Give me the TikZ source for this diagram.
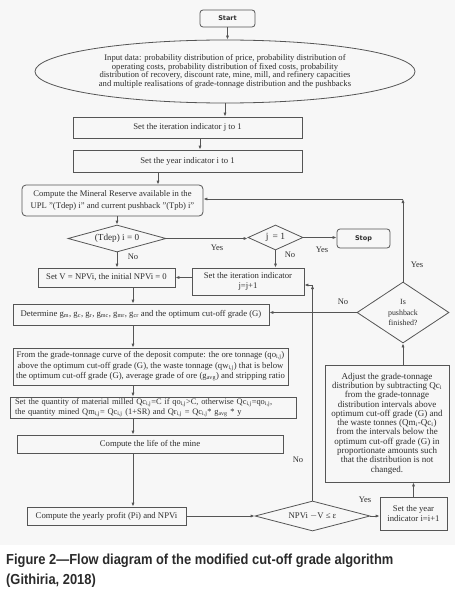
\documentclass[tikz,border=0pt]{standalone}
\usepackage{fontspec}
\setmainfont{Liberation Serif}
\newfontfamily\hdfont{DejaVu Sans}
\newfontfamily\capfont[FakeStretch=0.89]{Liberation Sans}
\usetikzlibrary{shapes.geometric,arrows.meta,calc}
\definecolor{ln}{HTML}{555555}
\definecolor{tx}{HTML}{2E2E2E}
\definecolor{bg}{HTML}{F7F7F7}
\definecolor{captx}{HTML}{2A2A2A}
\begin{document}
\begin{tikzpicture}[x=1pt,y=-1pt,
  every node/.style={text=tx, inner sep=0pt},
  box/.style={draw=ln, line width=0.8pt, font=\fontsize{8.7}{10.5}\selectfont, align=center},
  rbox/.style={box, rounded corners=4pt},
  term/.style={box, rounded corners=3pt, font=\hdfont\bfseries\fontsize{6.5}{8}\selectfont},
  dia/.style={diamond, draw=ln, line width=0.8pt, aspect=1},
  dtext/.style={font=\fontsize{8.7}{10.5}\selectfont, align=center},
  arr/.style={draw=ln, line width=0.8pt, -{Latex[length=4pt,width=3.2pt]}},
  lbl/.style={font=\fontsize{8.5}{10}\selectfont}]
\useasboundingbox (0,0) rectangle (455,591);
\fill[bg] (0,0) rectangle (455,545);

% nodes
\node[term, minimum width=55pt, minimum height=17pt] (start) at (227.5,18.5) {Start};
\node[ellipse, draw=ln, line width=0.8pt, minimum width=380pt, minimum height=63pt, align=center,
      font=\fontsize{8.6}{8.4}\selectfont] (input) at (225,71.5)
  {Input data: probability distribution of price, probability distribution of\\
   operating costs, probability distribution of fixed costs, probability\\
   distribution of recovery, discount rate, mine, mill, and refinery capacities\\
   and multiple realisations of grade-tonnage distribution and the pushbacks};
\node[box, minimum width=229pt, minimum height=21pt] (iter1) at (187.5,127.5) {Set the iteration indicator j to 1};
\node[box, minimum width=229pt, minimum height=22pt] (year1) at (187.5,161) {Set the year indicator i to 1};
\node[rbox, minimum width=181pt, minimum height=31pt, font=\fontsize{8.6}{11.5}\selectfont] (reserve) at (112.5,200.5)
  {Compute the Mineral Reserve available in the\\UPL ''(Tdep) i'' and current pushback ''(Tpb) i''};
\node[dia, minimum width=98pt, minimum height=27pt,
      label={[dtext, font=\fontsize{9.2}{11}\selectfont]center:(Tdep) i = 0}] (d1) at (117,238.5) {};
\node[dia, minimum width=55pt, minimum height=25pt,
      label={[dtext, font=\fontsize{9.5}{11}\selectfont]center:j\, = 1}] (d2) at (275.5,237.5) {};
\node[term, minimum width=53pt, minimum height=19pt] (stop) at (363.5,238.5) {Stop};
\node[box, minimum width=137pt, minimum height=19pt] (setV) at (106.5,277.5) {Set V = NPVi, the initial NPVi = 0};
\node[box, minimum width=112pt, minimum height=27pt] (iter2) at (248,281.5) {Set the iteration indicator\\j=j+1};
\node[box, minimum width=256pt, minimum height=21pt] (determine) at (141,314.5)
  {Determine g\textsubscript{m}, g\textsubscript{c}, g\textsubscript{r}, g\textsubscript{mc}, g\textsubscript{mr}, g\textsubscript{cr} and the optimum cut-off grade (G)};
\node[dia, minimum width=92pt, minimum height=61pt,
      label={[dtext, font=\fontsize{7.9}{10.5}\selectfont]center:Is\\pushback\\finished?}] (pb) at (403,312.5) {};
\node[box, minimum width=275pt, minimum height=37pt] (grade) at (150.5,366.5)
  {From the grade-tonnage curve of the deposit compute: the ore tonnage (qo\textsubscript{i,j})\\
   above the optimum cut-off grade (G), the waste tonnage (qw\textsubscript{i,j}) that is below\\
   the optimum cut-off grade (G), average grade of ore (g\textsubscript{avg}) and stripping ratio};
\node[box, minimum width=286pt, minimum height=21pt, align=left, text width=276pt,
      font=\fontsize{8.4}{10}\selectfont] (quantity) at (153,407.5)
  {Set the quantity of material milled Qc\textsubscript{i,j}=C if qo\textsubscript{i,j}>C, otherwise Qc\textsubscript{i,j}=qo\textsubscript{i,j},\\
   the quantity mined Qm\textsubscript{i,j}= Qc\textsubscript{i,j} (1+SR) and Qr\textsubscript{i,j} = Qc\textsubscript{i,j}* g\textsubscript{avg} * y};
\node[box, minimum width=266pt, minimum height=18pt] (life) at (150,444) {Compute the life of the mine};
\node[box, minimum width=159pt, minimum height=18pt] (profit) at (106.5,516) {Compute the yearly profit (Pi) and NPVi};
\node[dia, minimum width=115pt, minimum height=30pt,
      label={[dtext]center:NPVi $-$V ≤ ε}] (npv) at (312.5,516) {};
\node[box, minimum width=67pt, minimum height=33pt] (yearinc) at (413.5,513.5) {Set the year\\indicator i=i+1};
\node[box, minimum width=124pt, minimum height=117pt, font=\fontsize{9}{9.3}\selectfont] (adjust) at (387,423.5)
  {Adjust the grade-tonnage\\distribution by subtracting Qc\textsubscript{i}\\from the grade-tonnage\\
   distribution intervals above\\optimum cut-off grade (G) and\\the waste tonnes (Qm\textsubscript{i}-Qc\textsubscript{i})\\
   from the intervals below the\\optimum cut-off grade (G) in\\proportionate amounts such\\
   that the distribution is not\\changed.};

% labels
\node[lbl] (yes1) at (217,248) {Yes};
\node[lbl] (yes2) at (322,250) {Yes};
\node[lbl] (no1) at (133,257) {No};
\node[lbl] (no2) at (290,255) {No};
\node[lbl] (no3) at (343,302) {No};
\node[lbl] (yes3) at (417,265) {Yes};
\node[lbl] (yes4) at (365,500) {Yes};
\node[lbl] (no4) at (298,460) {No};

% connectors
\draw[arr] (start.south) -- (start.south |- input.north);
\draw[arr] (input.south) -- (input.south |- iter1.north);
\draw[arr] ([xshift=12.5pt]iter1.south) -- ([xshift=12.5pt]year1.north);
\draw[arr] ([xshift=-29.5pt]year1.south) -- ([xshift=-29.5pt]year1.south |- reserve.north);
\draw[arr] (d1.north |- reserve.south) -- (d1.north);
\draw[arr] (d1.east) -- (d1.east -| d2.west);
\draw[arr] (d2.east) -- (d2.east -| stop.west);
\draw[arr] (d1.south) -- (d1.south |- setV.north);
\draw[arr] (d2.south) -- (d2.south |- iter2.north);
\draw[arr] (setV.east -| iter2.west) -- (setV.east);
\draw[arr] ([xshift=26.5pt]setV.south) -- ([xshift=26.5pt]setV.south |- determine.north);
\draw[arr] (pb.west) -- (pb.west -| determine.east);
\coordinate (c1) at (pb.north |- 0,199);
\draw[arr] (pb.north) -- (c1);
\draw[arr] (c1) -- (c1 -| reserve.east);
\draw[arr] ([xshift=-8pt]determine.south) -- ([xshift=-8pt]determine.south |- grade.north);
\draw[arr] ([xshift=-17.5pt]grade.south) -- ([xshift=-17.5pt]grade.south |- quantity.north);
\draw[arr] ([xshift=-20pt]quantity.south) -- ([xshift=-20pt]quantity.south |- life.north);
\draw[arr] ([xshift=-17pt]life.south) -- ([xshift=-17pt]life.south |- profit.north);
\draw[arr] (profit.east) -- (npv.west);
\draw[arr] (npv.east) -- (npv.east -| yearinc.west);
\draw[arr] (yearinc.north) -- (yearinc.north |- adjust.south);
\draw[arr] (pb.south |- adjust.north) -- (pb.south);
\coordinate (c2) at (npv.north |- 0,285);
\draw[arr] (npv.north) -- (c2);
\draw[arr] (c2) -- (c2 -| iter2.east);

% caption
\node[anchor=base west, text=captx, font=\capfont\bfseries\fontsize{14.5}{18}\selectfont] (cap1) at (6,564)
  {Figure 2—Flow diagram of the modified cut-off grade algorithm};
\node[anchor=base west, text=captx, font=\capfont\bfseries\fontsize{14.5}{18}\selectfont] (cap2) at (6,584)
  {(Githiria, 2018)};
\end{tikzpicture}
\end{document}
